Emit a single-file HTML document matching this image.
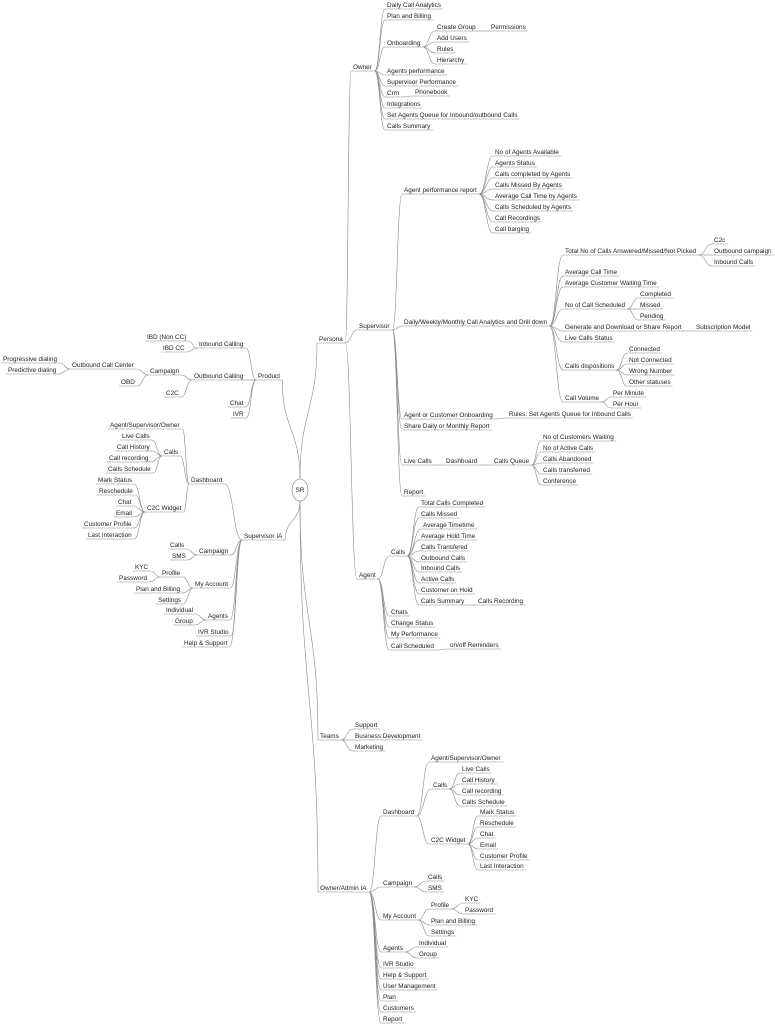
<!DOCTYPE html>
<html><head><meta charset="utf-8">
<style>
html,body{margin:0;padding:0;background:#fff;}
svg{display:block;}
text{font-family:"Liberation Sans",sans-serif;font-size:6.4px;fill:#222;}
</style></head>
<body>
<svg id="m" width="775" height="1024" viewBox="0 0 775 1024" xmlns="http://www.w3.org/2000/svg">
<g id="lines" fill="none" stroke="#8a8a8a" stroke-width="0.6"></g>
<g id="root">
<ellipse cx="300" cy="490" rx="8" ry="11" fill="#fff" stroke="#777" stroke-width="0.6"/>
<text x="300" y="492" text-anchor="middle">SR</text>
<g><text x="319" y="341">Persona</text>
 <g><text x="353" y="69">Owner</text>
  <g><text x="387" y="7">Daily Call Analytics</text></g>
  <g><text x="387" y="18">Plan and Billing</text></g>
  <g><text x="387" y="45">Onboarding</text>
   <g><text x="437" y="29">Create Group</text><g><text x="491" y="29">Permissions</text></g></g>
   <g><text x="437" y="40">Add Users</text></g>
   <g><text x="437" y="51">Rules</text></g>
   <g><text x="437" y="62">Hierarchy</text></g>
  </g>
  <g><text x="387" y="73">Agents performance</text></g>
  <g><text x="387" y="84">Supervisor Performance</text></g>
  <g><text x="387" y="95">Crm</text><g><text x="415" y="94">Phonebook</text></g></g>
  <g><text x="387" y="106">Integrations</text></g>
  <g><text x="387" y="117">Set Agents Queue for Inbound/outbound Calls</text></g>
  <g><text x="387" y="128">Calls Summary</text></g>
 </g>
 <g><text x="359" y="328">Supervisor</text>
  <g><text x="404" y="192">Agent performance report</text>
   <g><text x="495" y="154">No of Agents Available</text></g>
   <g><text x="495" y="165">Agents Status</text></g>
   <g><text x="495" y="176">Calls completed by Agents</text></g>
   <g><text x="495" y="187">Calls Missed By Agents</text></g>
   <g><text x="495" y="198">Average Call Time by Agents</text></g>
   <g><text x="495" y="209">Calls Scheduled by Agents</text></g>
   <g><text x="495" y="220">Call Recordings</text></g>
   <g><text x="495" y="231">Call barging</text></g>
  </g>
  <g><text x="404" y="324">Daily/Weekly/Monthly Call Analytics and Drill down</text>
   <g><text x="565" y="253">Total No of Calls Answered/Missed/Not Picked</text>
    <g><text x="714" y="242">C2c</text></g>
    <g><text x="714" y="253">Outbound campaign</text></g>
    <g><text x="714" y="264">Inbound Calls</text></g>
   </g>
   <g><text x="565" y="274">Average Call Time</text></g>
   <g><text x="565" y="285">Average Customer Waiting Time</text></g>
   <g><text x="565" y="307">No of Call Scheduled</text>
    <g><text x="640" y="296">Completed</text></g>
    <g><text x="640" y="307">Missed</text></g>
    <g><text x="640" y="318">Pending</text></g>
   </g>
   <g><text x="565" y="329">Generate and Download or Share Report</text><g><text x="696" y="329">Subscription Model</text></g></g>
   <g><text x="565" y="340">Live Calls Status</text></g>
   <g><text x="565" y="368">Calls dispositions</text>
    <g><text x="629" y="351">Connected</text></g>
    <g><text x="629" y="362">Not Connected</text></g>
    <g><text x="629" y="373">Wrong Number</text></g>
    <g><text x="629" y="384">Other statuses</text></g>
   </g>
   <g><text x="565" y="400">Call Volume</text>
    <g><text x="613" y="395">Per Minute</text></g>
    <g><text x="613" y="406">Per Hour</text></g>
   </g>
  </g>
  <g><text x="404" y="417">Agent or Customer Onboarding</text><g><text x="509" y="416">Rules: Set Agents Queue for Inbound Calls</text></g></g>
  <g><text x="404" y="428">Share Daily or Monthly Report</text></g>
  <g><text x="404" y="463">Live Calls</text>
   <g><text x="446" y="463">Dashboard</text>
    <g><text x="494" y="463">Calls Queue</text>
     <g><text x="543" y="439">No of Customers Waiting</text></g>
     <g><text x="543" y="450">No of Active Calls</text></g>
     <g><text x="543" y="461">Calls Abandoned</text></g>
     <g><text x="543" y="472">Calls transferred</text></g>
     <g><text x="543" y="483">Conference</text></g>
    </g>
   </g>
  </g>
  <g><text x="404" y="494">Report</text></g>
 </g>
 <g><text x="359" y="577">Agent</text>
  <g><text x="391" y="554">Calls</text>
   <g><text x="421" y="505">Total Calls Completed</text></g>
   <g><text x="421" y="516">Calls Missed</text></g>
   <g><text x="423" y="527">Average Timetime</text></g>
   <g><text x="421" y="538">Average Hold Time</text></g>
   <g><text x="421" y="549">Calls Transfered</text></g>
   <g><text x="421" y="560">Outbound Calls</text></g>
   <g><text x="421" y="570">Inbound Calls</text></g>
   <g><text x="421" y="581">Active Calls</text></g>
   <g><text x="421" y="592">Customer on Hold</text></g>
   <g><text x="421" y="603">Calls Summary</text><g><text x="478" y="603">Calls Recording</text></g></g>
  </g>
  <g><text x="391" y="614">Chats</text></g>
  <g><text x="391" y="625">Change Status</text></g>
  <g><text x="391" y="636">My Performance</text></g>
  <g><text x="391" y="648">Call Scheduled</text><g><text x="450" y="647">on/off Reminders</text></g></g>
 </g>
</g>
<g><text x="320" y="738">Teams</text>
 <g><text x="355" y="727">Support</text></g>
 <g><text x="355" y="738">Business Development</text></g>
 <g><text x="355" y="749">Marketing</text></g>
</g>
<g><text x="320" y="890">Owner/Admin IA</text>
 <g><text x="383" y="814">Dashboard</text>
  <g><text x="431" y="760">Agent/Supervisor/Owner</text></g>
  <g><text x="433" y="787">Calls</text>
   <g><text x="462" y="771">Live Calls</text></g>
   <g><text x="462" y="782">Call History</text></g>
   <g><text x="462" y="793">Call recording</text></g>
   <g><text x="462" y="804">Calls Schedule</text></g>
  </g>
  <g><text x="431" y="842">C2C Widget</text>
   <g><text x="480" y="814">Mark Status</text></g>
   <g><text x="480" y="825">Reschedule</text></g>
   <g><text x="480" y="836">Chat</text></g>
   <g><text x="480" y="847">Email</text></g>
   <g><text x="480" y="858">Customer Profile</text></g>
   <g><text x="480" y="868">Last Interaction</text></g>
  </g>
 </g>
 <g><text x="383" y="885">Campaign</text>
  <g><text x="428" y="879">Calls</text></g>
  <g><text x="428" y="890">SMS</text></g>
 </g>
 <g><text x="383" y="918">My Account</text>
  <g><text x="431" y="907">Profile</text>
   <g><text x="465" y="901">KYC</text></g>
   <g><text x="465" y="912">Password</text></g>
  </g>
  <g><text x="431" y="923">Plan and Billing</text></g>
  <g><text x="431" y="934">Settings</text></g>
 </g>
 <g><text x="383" y="950">Agents</text>
  <g><text x="419" y="945">Individual</text></g>
  <g><text x="419" y="956">Group</text></g>
 </g>
 <g><text x="383" y="966">IVR Studio</text></g>
 <g><text x="383" y="977">Help &amp; Support</text></g>
 <g><text x="383" y="988">User Management</text></g>
 <g><text x="383" y="999">Plan</text></g>
 <g><text x="383" y="1010">Customers</text></g>
 <g><text x="383" y="1021">Report</text></g>
</g>
<g><text x="258" y="378">Product</text>
 <g><text x="199" y="346">Inbound Calling</text>
  <g><text x="147" y="339">IBD (Non CC)</text></g>
  <g><text x="163" y="350">IBD CC</text></g>
 </g>
 <g><text x="194" y="378">Outbound Calling</text>
  <g><text x="150" y="373">Campaign</text>
   <g><text x="72" y="367">Outbound Call Center</text>
    <g><text x="3" y="361">Progressive dialing</text></g>
    <g><text x="8" y="372">Predictive dialing</text></g>
   </g>
   <g><text x="121" y="384">OBD</text></g>
  </g>
  <g><text x="166" y="395">C2C</text></g>
 </g>
 <g><text x="230" y="405">Chat</text></g>
 <g><text x="233" y="416">IVR</text></g>
</g>
<g><text x="244" y="538">Supervisor IA</text>
 <g><text x="191" y="482">Dashboard</text>
  <g><text x="110" y="427">Agent/Supervisor/Owner</text></g>
  <g><text x="164" y="454">Calls</text>
   <g><text x="122" y="438">Live Calls</text></g>
   <g><text x="117" y="449">Call History</text></g>
   <g><text x="109" y="460">Call recording</text></g>
   <g><text x="108" y="471">Calls Schedule</text></g>
  </g>
  <g><text x="147" y="510">C2C Widget</text>
   <g><text x="98" y="482">Mark Status</text></g>
   <g><text x="99" y="493">Reschedule</text></g>
   <g><text x="118" y="504">Chat</text></g>
   <g><text x="116" y="515">Email</text></g>
   <g><text x="84" y="526">Customer Profile</text></g>
   <g><text x="88" y="537">Last Interaction</text></g>
  </g>
 </g>
 <g><text x="199" y="553">Campaign</text>
  <g><text x="170" y="547">Calls</text></g>
  <g><text x="172" y="558">SMS</text></g>
 </g>
 <g><text x="195" y="586">My Account</text>
  <g><text x="162" y="575">Profile</text>
   <g><text x="135" y="569">KYC</text></g>
   <g><text x="119" y="580">Password</text></g>
  </g>
  <g><text x="136" y="591">Plan and Billing</text></g>
  <g><text x="158" y="602">Settings</text></g>
 </g>
 <g><text x="208" y="618">Agents</text>
  <g><text x="166" y="612">Individual</text></g>
  <g><text x="175" y="623">Group</text></g>
 </g>
 <g><text x="198" y="634">IVR Studio</text></g>
 <g><text x="184" y="645">Help &amp; Support</text></g>
</g>
</g>
</svg>
<script>
(function(){
var NS="http://www.w3.org/2000/svg",L=document.getElementById('lines');
function info(g){var t=g.querySelector(':scope>text');var b=t.getBBox();var y=parseFloat(t.getAttribute('y'))+2;
return {l:b.x-2,r:b.x+b.width+2,y:y,cx:b.x+b.width/2};}
function add(d){var p=document.createElementNS(NS,'path');p.setAttribute('d',d);L.appendChild(p);}
function walk(g,isRoot){
 var kids=g.querySelectorAll(':scope>g');
 var pi=isRoot?null:info(g);
 if(!isRoot){add('M'+pi.l+' '+pi.y+'H'+pi.r);}
 kids.forEach(function(k){
  var ci=info(k);
  if(isRoot){
   var x0=300,y0=ci.y<490?479:501;
   var left=ci.cx<300;var x1=left?ci.r:ci.l;var m=(y0+ci.y)/2;
   add('M'+x0+' '+y0+'C'+x0+' '+m+' '+x1+' '+m+' '+x1+' '+ci.y);
  } else {
   var left=ci.cx<pi.cx;var x0=left?pi.l:pi.r,x1=left?ci.r:ci.l;var mx=(x0+x1)/2;
   add('M'+x0+' '+pi.y+'C'+mx+' '+pi.y+' '+mx+' '+ci.y+' '+x1+' '+ci.y);
  }
  walk(k,false);
 });
}
walk(document.getElementById('root'),true);
})();
</script>
</body></html>
